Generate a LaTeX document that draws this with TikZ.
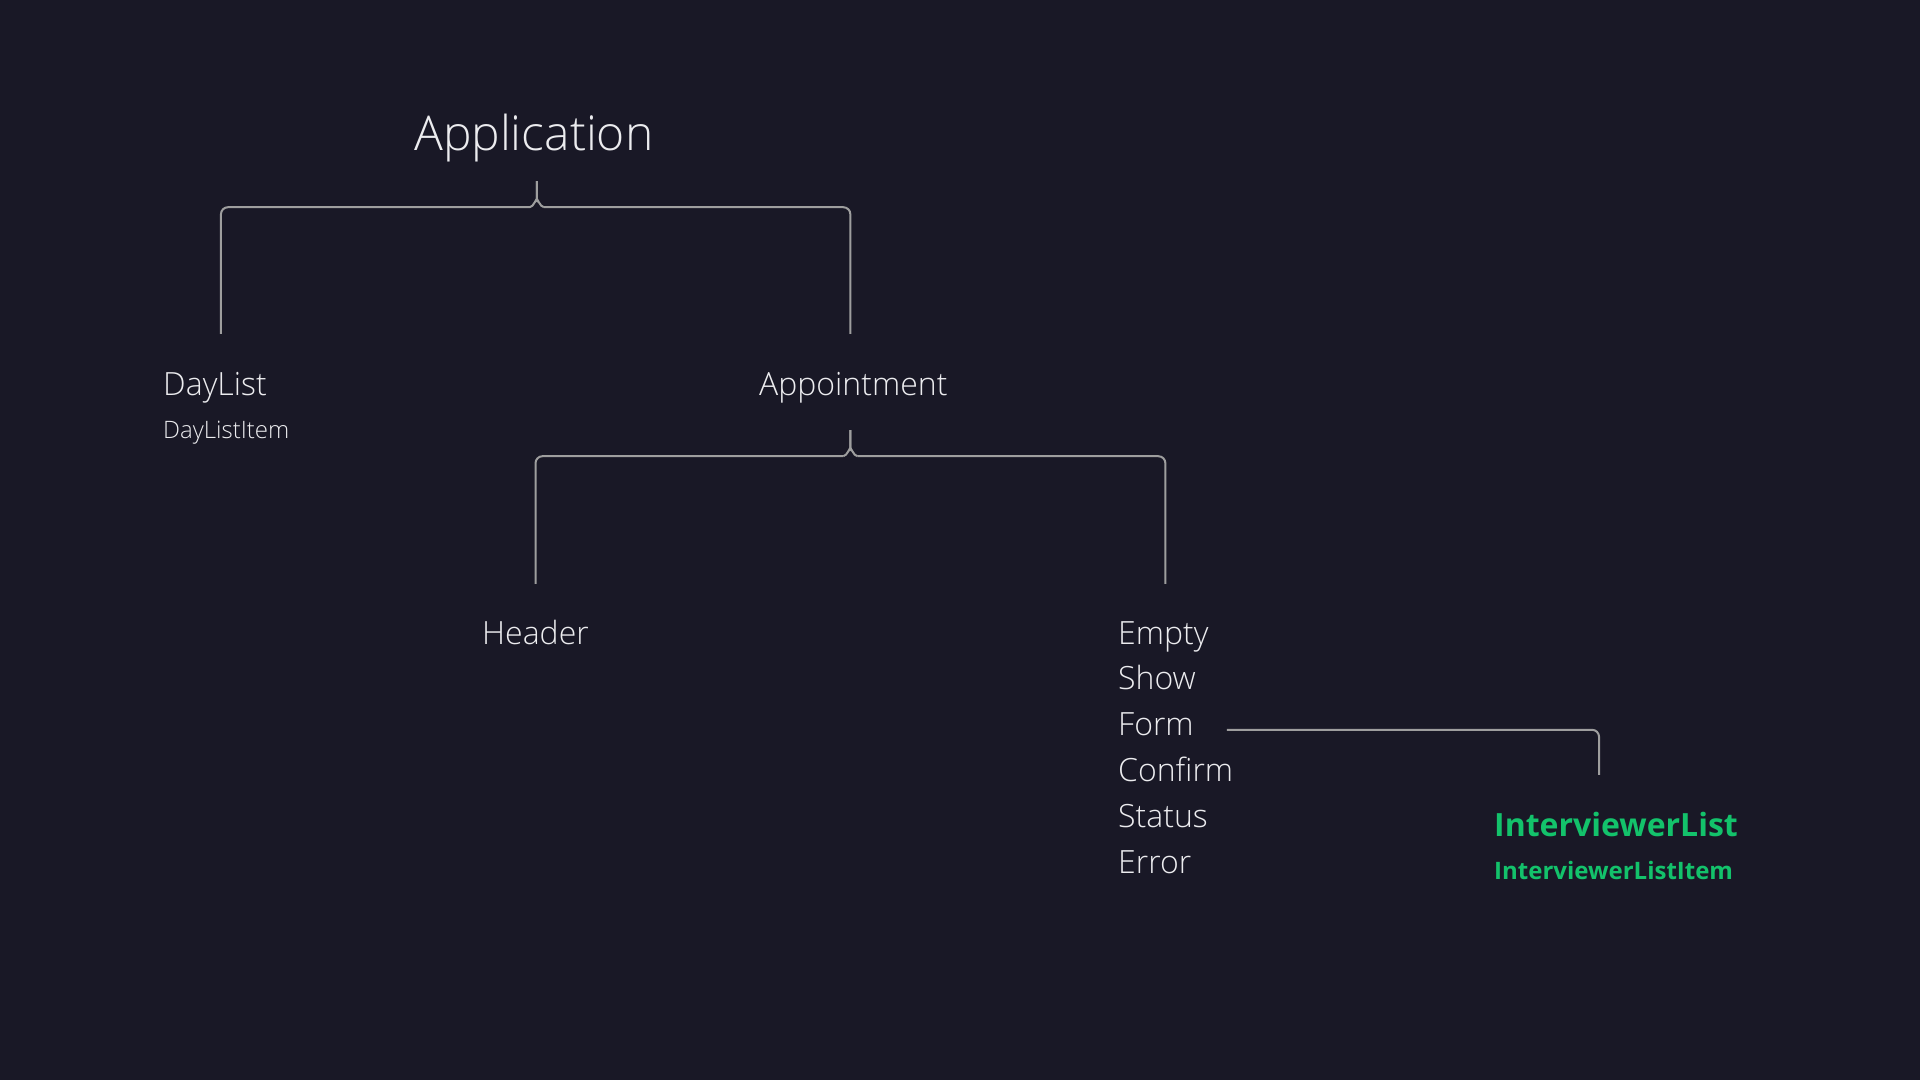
\documentclass[tikz,border=0pt]{standalone}
\usepackage{fontspec}
\setmainfont{Open Sans}[UprightFont=* Light, BoldFont=* Bold]
\usepackage{tikz}
\usepackage{xcolor}
\definecolor{bgnavy}{HTML}{191826}
\definecolor{linegray}{HTML}{9E9E9E}
\definecolor{textwhite}{HTML}{ECECEF}
\definecolor{compgreen}{HTML}{13C26B}

\tikzset{
	comp/.style = {anchor=base west, inner sep=0pt, text=textwhite, text height=24pt, text depth=8pt, font=\fontsize{32}{38}\selectfont},
	sub/.style = {comp, text height=18pt, text depth=6pt, font=\fontsize{24}{29}\selectfont},
	newcomp/.style = {comp, text=compgreen, font=\fontsize{32}{38}\selectfont\bfseries},
	newsub/.style = {newcomp, text height=18pt, text depth=6pt, font=\fontsize{24}{29}\selectfont\bfseries},
	conn/.style = {draw=linegray, line width=2pt},
}

\begin{document}
\begin{tikzpicture}[x=1pt, y=-1pt]
		\fill[bgnavy] (0,0) rectangle (1920,1080);
		\useasboundingbox (0,0) rectangle (1920,1080);
		% components
		\node[comp, text height=36pt, text depth=12pt, font=\fontsize{48}{58}\selectfont] (app) at (414,150) {Application};
		\node[comp] (daylist) at (163,395) {DayList};
		\node[sub] (dayitem) at (163,438) {DayListItem};
		\node[comp] (appt) at (759,395) {Appointment};
		\node[comp] (header) at (482,644) {Header};
		\foreach \name/\label [count=\i from 0] in {empty/Empty, show/Show, form/Form, confirm/Confirm, status/Status, error/Error}
			\node[comp] (\name) at (1118,644+45.9*\i) {\label};
		\node[newcomp] (ivlist) at (1494,836) {InterviewerList};
		\node[newsub] (ivitem) at (1494,879) {InterviewerListItem};
		% braces
		\draw[conn] ([xshift=3pt, yshift=-19pt]app.south) -- ++(0,19) to[out=90, in=0] ++(-7,7);
		\draw[conn] ([xshift=3pt, yshift=-19pt]app.south) -- ++(0,19) to[out=90, in=180] ++(7,7);
		\draw[conn, rounded corners=7pt] ([xshift=-4pt, yshift=-45pt]app.south) -| ([xshift=6pt, yshift=37pt]daylist.north);
		\draw[conn, rounded corners=7pt] ([xshift=10pt, yshift=-45pt]app.south) -| ([xshift=-3pt, yshift=37pt]appt.north);
		\draw[conn] ([xshift=-3pt, yshift=-27pt]appt.south) -- ++(0,19) to[out=90, in=0] ++(-7,7);
		\draw[conn] ([xshift=-3pt, yshift=-27pt]appt.south) -- ++(0,19) to[out=90, in=180] ++(7,7);
		\draw[conn, rounded corners=7pt] ([xshift=-10pt, yshift=-53pt]appt.south) -| ([yshift=36pt]header.north);
		\draw[conn, rounded corners=7pt] ([xshift=4pt, yshift=-53pt]appt.south) -| ([xshift=2pt, yshift=36pt]empty.north);
		\draw[conn, rounded corners=7pt] ([xshift=33pt, yshift=-2pt]form.east) -| ([xshift=-17pt, yshift=37pt]ivlist.north);
	\end{tikzpicture}
\end{document}
